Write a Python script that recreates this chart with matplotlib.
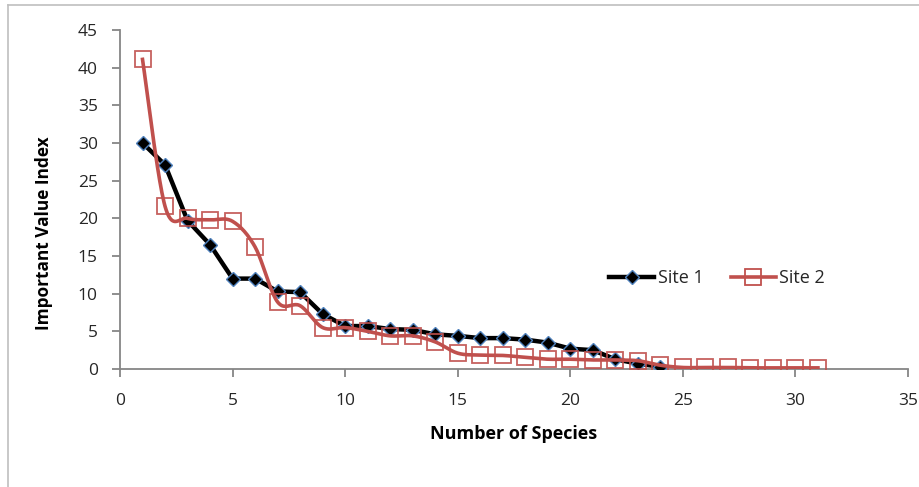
import numpy as np
import matplotlib
matplotlib.use('Agg')
import matplotlib.pyplot as plt
from matplotlib.lines import Line2D

plt.rcParams['font.family'] = ['Open Sans', 'DejaVu Sans']

# Data
species = list(range(1, 32))
site1 = [30.0, 27.1, 19.7, 16.5, 12.0, 12.0, 10.3, 10.2, 7.3, 5.7,
         5.7, 5.3, 5.2, 4.6, 4.4, 4.1, 4.1, 3.9, 3.5, 2.7,
         2.5, 1.3, 0.7, 0.3]
site2 = [41.1, 21.6, 20.0, 19.8, 19.6, 16.2, 8.9, 8.4, 5.5, 5.5,
         5.0, 4.4, 4.4, 3.6, 2.1, 1.85, 1.8, 1.55, 1.3, 1.3,
         1.2, 1.2, 1.1, 0.5, 0.2, 0.2, 0.2, 0.15, 0.15, 0.15, 0.15]
x_ticks = [0, 5, 10, 15, 20, 25, 30, 35]
y_ticks = [0, 5, 10, 15, 20, 25, 30, 35, 40, 45]

red = '#C0504D'
blue_edge = '#4F81BD'
axis_gray = '#868686'
text_col = '#262626'


def smooth(xs, ys, n=24):
    # Excel-style smoothed line (Bezier through the points)
    p = np.column_stack([xs, ys]).astype(float)
    out = [p[0]]
    for i in range(len(p) - 1):
        p0 = p[i - 1] if i > 0 else p[i]
        p3 = p[i + 2] if i + 2 < len(p) else p[i + 1]
        c1 = p[i] + (p[i + 1] - p0) / 6
        c2 = p[i + 1] - (p3 - p[i]) / 6
        t = np.linspace(0, 1, n)[1:, None]
        seg = ((1 - t) ** 3) * p[i] + 3 * ((1 - t) ** 2) * t * c1 \
            + 3 * (1 - t) * t ** 2 * c2 + t ** 3 * p[i + 1]
        out.extend(seg)
    out = np.array(out)
    return out[:, 0], out[:, 1]


fig = plt.figure(figsize=(9.2, 4.87), dpi=100)
ax = fig.add_axes([120 / 920, 1 - 369 / 487, 788 / 920, 339 / 487])

x1 = species[:len(site1)]
ax.plot(x1, site1, color='black', linewidth=3.2, zorder=3)
ax.plot(x1, site1, linestyle='none', marker='D', markersize=7.5,
        markerfacecolor='black', markeredgecolor=blue_edge,
        markeredgewidth=1.0, zorder=4)

sx, sy = smooth(species, site2)
ax.plot(sx, sy, color=red, linewidth=2.6, zorder=5)
ax.plot(species, site2, linestyle='none', marker='s', markersize=12,
        markerfacecolor='none', markeredgecolor=red, markeredgewidth=1.3,
        alpha=0.9, zorder=6)

ax.set_xlim(0, 35)
ax.set_ylim(0, 45)
ax.set_xticks(x_ticks)
ax.set_yticks(y_ticks)

for side in ['top', 'right']:
    ax.spines[side].set_visible(False)
for side in ['left', 'bottom']:
    ax.spines[side].set_color(axis_gray)
    ax.spines[side].set_linewidth(1.3)

ax.tick_params(axis='both', colors=axis_gray, width=1.3, length=6,
               direction='out', labelsize=12.5, labelcolor=text_col)
ax.tick_params(axis='y', pad=10)
ax.tick_params(axis='x', pad=11)

ax.set_xlabel('Number of Species', fontsize=13, fontweight='bold',
              color='black')
ax.xaxis.set_label_coords(0.5, -0.165)
ax.set_ylabel('Important Value Index', fontsize=12.4, fontweight='bold',
              color='black')
ax.yaxis.set_label_coords(-0.085, 0.40)

handles = [
    Line2D([], [], color='black', linewidth=3.2, marker='D', markersize=7.5,
           markerfacecolor='black', markeredgecolor=blue_edge,
           markeredgewidth=1.0),
    Line2D([], [], color=red, linewidth=2.6, marker='s', markersize=12,
           markerfacecolor='none', markeredgecolor=red, markeredgewidth=1.3),
]
fig.legend(handles, ['Site 1', 'Site 2'], loc='center',
           bbox_to_anchor=(717 / 920, 1 - 278 / 487), ncol=2, frameon=False,
           fontsize=13, handlelength=2.5, handletextpad=0.2,
           columnspacing=1.5, labelcolor=text_col)

# chart-area frame (only top and left edges visible)
frame_col = '#BFBFBF'
fig.add_artist(Line2D([8 / 920, 1], [1 - 5 / 487, 1 - 5 / 487],
                      color=frame_col, linewidth=1.2))
fig.add_artist(Line2D([8 / 920, 8 / 920], [0, 1 - 5 / 487],
                      color=frame_col, linewidth=1.2))

fig.savefig('out.png', dpi=100)
